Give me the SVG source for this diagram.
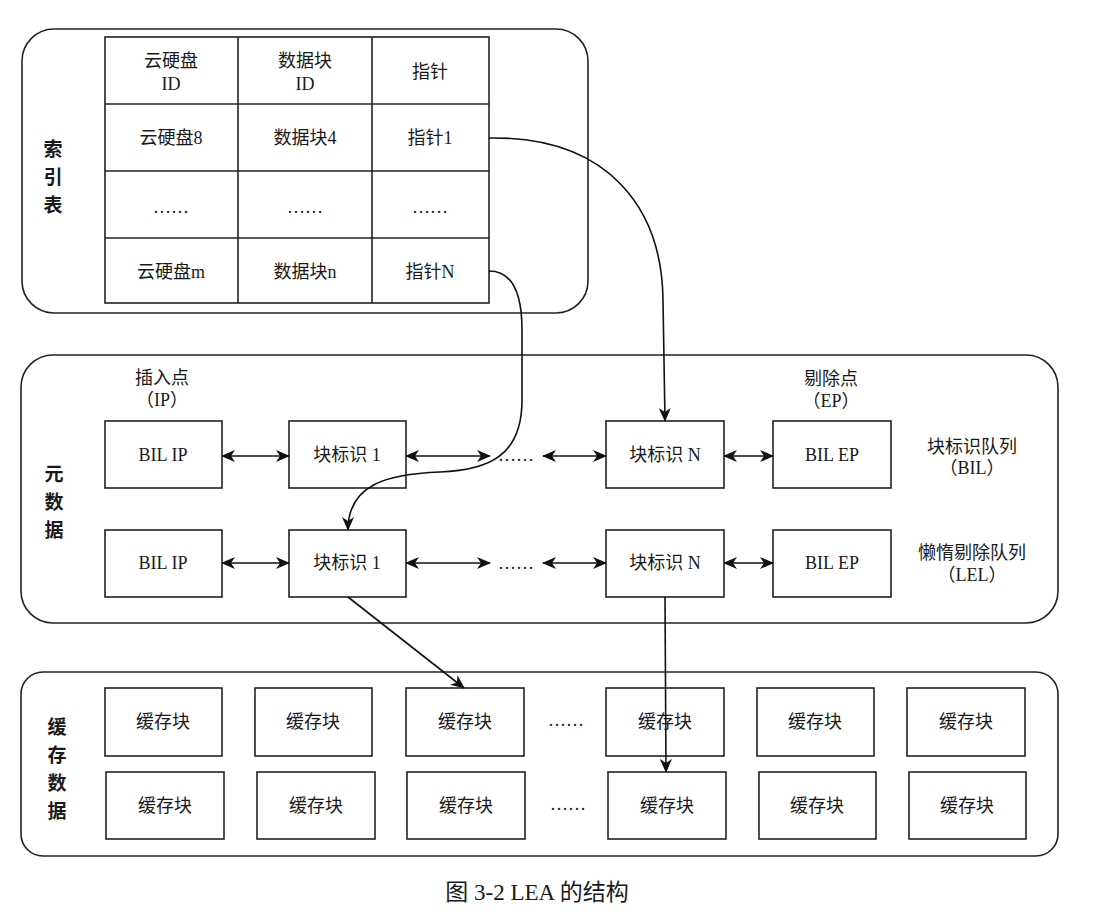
<svg xmlns="http://www.w3.org/2000/svg" width="1106" height="924" viewBox="0 0 1106 924">
<style>
.cont{fill:#fff;stroke:#222;stroke-width:1.6}
.box{fill:#fff;stroke:#222;stroke-width:1.6}
.cell{fill:#fff;stroke:#222;stroke-width:1.6}
text{font-family:"Liberation Serif","Noto Sans CJK SC",serif;fill:#1a1a1a}
.t{font-size:18px;text-anchor:middle;dominant-baseline:central}
.h{font-size:19px;font-weight:bold;text-anchor:middle;font-family:"Noto Sans CJK SC",sans-serif}
.cap{font-size:23px;text-anchor:middle}
.ln{fill:none;stroke:#111;stroke-width:1.6}
</style>
<defs>
<marker id="ah" markerUnits="userSpaceOnUse" markerWidth="14" markerHeight="12" viewBox="0 0 14 12" refX="13" refY="6" orient="auto-start-reverse">
<path d="M0,0 L14,6 L0,12 L4,6 z" fill="#111"/>
</marker>
</defs>
<rect width="1106" height="924" fill="#fff"/>

<g id="index-table">
<rect class="cont" x="22" y="29" width="566" height="284" rx="32"/>
<text class="h" x="53" y="156">索</text>
<text class="h" x="53" y="184">引</text>
<text class="h" x="53" y="212">表</text>
<g id="table">
<rect class="cell" x="105" y="37" width="384" height="266"/>
<line class="cell" x1="238" y1="37" x2="238" y2="303"/>
<line class="cell" x1="372" y1="37" x2="372" y2="303"/>
<line class="cell" x1="105" y1="104" x2="489" y2="104"/>
<line class="cell" x1="105" y1="171" x2="489" y2="171"/>
<line class="cell" x1="105" y1="238" x2="489" y2="238"/>
<text class="t" x="171" y="61">云硬盘</text>
<text class="t" x="171" y="84">ID</text>
<text class="t" x="305" y="61">数据块</text>
<text class="t" x="305" y="84">ID</text>
<text class="t" x="430" y="72">指针</text>
<text class="t" x="171" y="138">云硬盘8</text>
<text class="t" x="305" y="138">数据块4</text>
<text class="t" x="430" y="138">指针1</text>
<text class="t" x="171" y="207">……</text>
<text class="t" x="305" y="207">……</text>
<text class="t" x="430" y="207">……</text>
<text class="t" x="171" y="272">云硬盘m</text>
<text class="t" x="305" y="272">数据块n</text>
<text class="t" x="430" y="272">指针N</text>
</g>
</g>

<g id="metadata">
<rect class="cont" x="21" y="355" width="1037" height="268" rx="32"/>
<text class="h" x="54" y="481">元</text>
<text class="h" x="54" y="509">数</text>
<text class="h" x="54" y="537">据</text>
<text class="t" x="162" y="378">插入点</text>
<text class="t" x="162" y="400">（IP）</text>
<text class="t" x="831" y="379">剔除点</text>
<text class="t" x="831" y="401">（EP）</text>
<text class="t" x="972" y="447">块标识队列</text>
<text class="t" x="972" y="468">（BIL）</text>
<text class="t" x="972" y="553">懒惰剔除队列</text>
<text class="t" x="972" y="575">（LEL）</text>
<g id="bil-ip-1"><rect class="box" x="105" y="421" width="117" height="67"/><text class="t" x="163" y="455">BIL IP</text></g>
<g id="bil-b1"><rect class="box" x="289" y="421" width="117" height="67"/><text class="t" x="347" y="455">块标识 1</text></g>
<text class="t" x="516" y="455">……</text>
<g id="bil-bn"><rect class="box" x="606" y="421" width="118" height="67"/><text class="t" x="665" y="455">块标识 N</text></g>
<g id="bil-ep-1"><rect class="box" x="773" y="421" width="118" height="67"/><text class="t" x="832" y="455">BIL EP</text></g>
<g id="lel-ip"><rect class="box" x="105" y="530" width="117" height="67"/><text class="t" x="163" y="563">BIL IP</text></g>
<g id="lel-b1"><rect class="box" x="289" y="530" width="117" height="67"/><text class="t" x="347" y="563">块标识 1</text></g>
<text class="t" x="516" y="563">……</text>
<g id="lel-bn"><rect class="box" x="606" y="530" width="118" height="67"/><text class="t" x="665" y="563">块标识 N</text></g>
<g id="lel-ep"><rect class="box" x="773" y="530" width="118" height="67"/><text class="t" x="832" y="563">BIL EP</text></g>
</g>

<g id="cache">
<rect class="cont" x="21" y="672" width="1037" height="184" rx="22"/>
<text class="h" x="57" y="734">缓</text>
<text class="h" x="57" y="762">存</text>
<text class="h" x="57" y="790">数</text>
<text class="h" x="57" y="818">据</text>
<g id="c11"><rect class="box" x="105" y="688" width="117" height="68"/><text class="t" x="163" y="722">缓存块</text></g>
<g id="c12"><rect class="box" x="255" y="688" width="117" height="68"/><text class="t" x="313" y="722">缓存块</text></g>
<g id="c13"><rect class="box" x="406" y="688" width="118" height="68"/><text class="t" x="465" y="722">缓存块</text></g>
<text class="t" x="566" y="720">……</text>
<g id="c14"><rect class="box" x="606" y="688" width="118" height="68"/><text class="t" x="665" y="722">缓存块</text></g>
<g id="c15"><rect class="box" x="757" y="688" width="117" height="68"/><text class="t" x="815" y="722">缓存块</text></g>
<g id="c16"><rect class="box" x="907" y="688" width="118" height="68"/><text class="t" x="966" y="722">缓存块</text></g>
<g id="c21"><rect class="box" x="106" y="772" width="118" height="67"/><text class="t" x="165" y="806">缓存块</text></g>
<g id="c22"><rect class="box" x="257" y="772" width="118" height="67"/><text class="t" x="316" y="806">缓存块</text></g>
<g id="c23"><rect class="box" x="407" y="772" width="118" height="67"/><text class="t" x="466" y="806">缓存块</text></g>
<text class="t" x="568" y="804">……</text>
<g id="c24"><rect class="box" x="608" y="772" width="118" height="67"/><text class="t" x="667" y="806">缓存块</text></g>
<g id="c25"><rect class="box" x="759" y="772" width="117" height="67"/><text class="t" x="817" y="806">缓存块</text></g>
<g id="c26"><rect class="box" x="909" y="772" width="117" height="67"/><text class="t" x="967" y="806">缓存块</text></g>
</g>

<g id="connectors">
<line class="ln" x1="222" y1="456" x2="289" y2="456" marker-start="url(#ah)" marker-end="url(#ah)"/>
<line class="ln" x1="406" y1="456" x2="490" y2="456" marker-start="url(#ah)" marker-end="url(#ah)"/>
<line class="ln" x1="543" y1="456" x2="606" y2="456" marker-start="url(#ah)" marker-end="url(#ah)"/>
<line class="ln" x1="724" y1="456" x2="773" y2="456" marker-start="url(#ah)" marker-end="url(#ah)"/>
<line class="ln" x1="222" y1="563" x2="289" y2="563" marker-start="url(#ah)" marker-end="url(#ah)"/>
<line class="ln" x1="406" y1="563" x2="490" y2="563" marker-start="url(#ah)" marker-end="url(#ah)"/>
<line class="ln" x1="543" y1="563" x2="606" y2="563" marker-start="url(#ah)" marker-end="url(#ah)"/>
<line class="ln" x1="724" y1="563" x2="773" y2="563" marker-start="url(#ah)" marker-end="url(#ah)"/>
<path class="ln" d="M489,138 C610,136 662,210 663,300 L665,421" marker-end="url(#ah)"/>
<path class="ln" d="M489,271 C512,271 522,292 522,330 L522,400 C522,455 490,470 440,472 C388,474 348,484 348,530" marker-end="url(#ah)"/>
<line class="ln" x1="348" y1="597" x2="464" y2="688" marker-end="url(#ah)"/>
<line class="ln" x1="665" y1="597" x2="666" y2="772" marker-end="url(#ah)"/>
</g>

<text class="cap" x="537" y="900">图 3-2 LEA 的结构</text>
</svg>
